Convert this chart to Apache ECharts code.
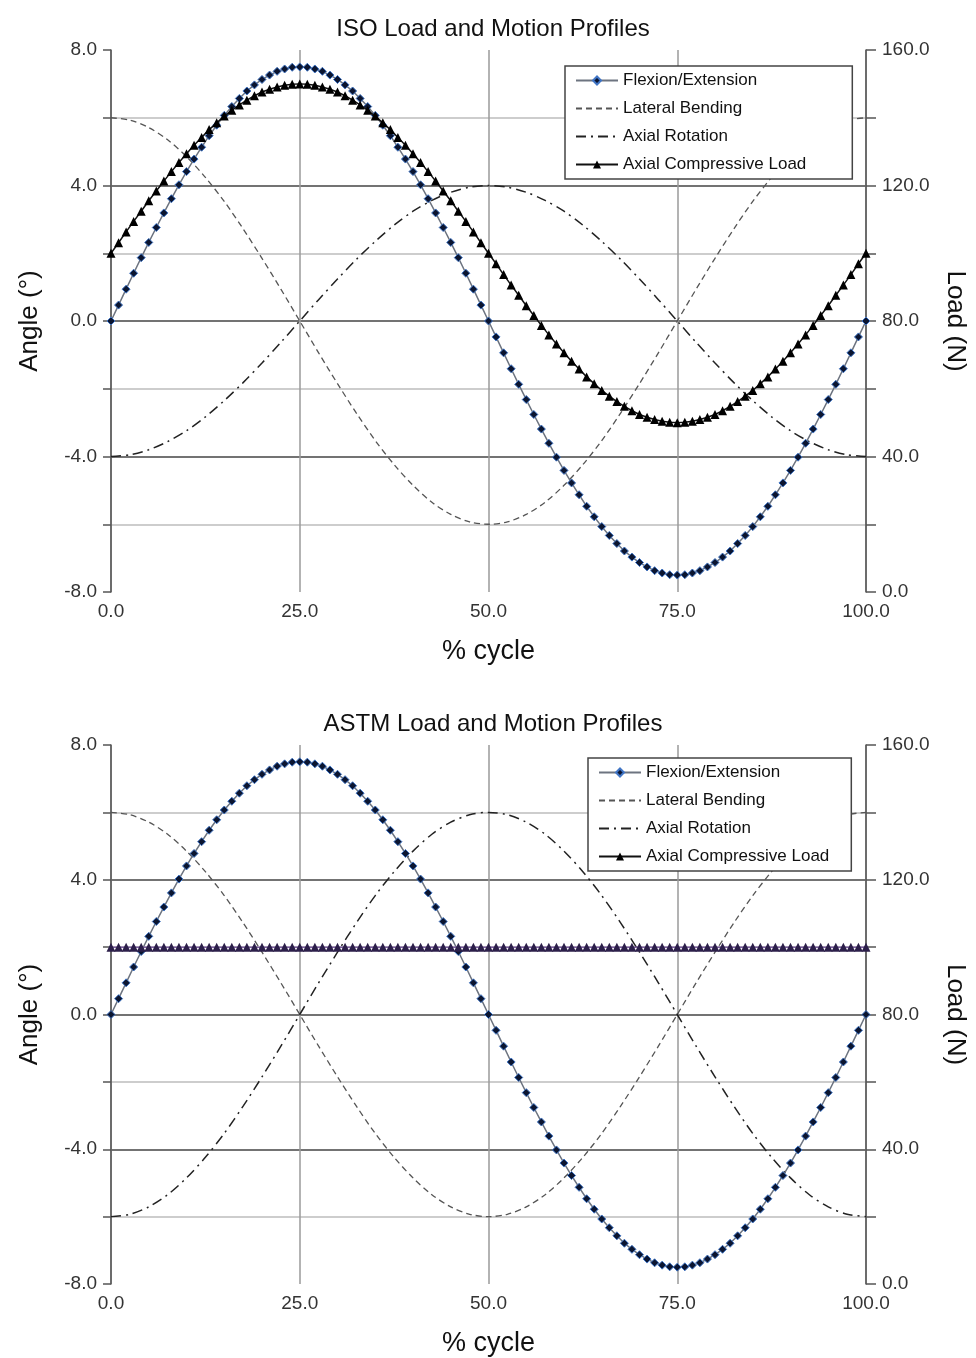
<!DOCTYPE html>
<html>
<head>
<meta charset="utf-8">
<script src="https://cdn.jsdelivr.net/npm/echarts@6/dist/echarts.min.js"></script>
<style>
  html, body { margin: 0; padding: 0; background: #fff; }
  #chart { width: 976px; height: 1358px; }
</style>
</head>
<body>
<div id="chart"></div>
<script>
// % cycle, 1% steps (marker series) and 2.5% steps (plain lines)
var xFine = [];
for (var i = 0; i <= 100; i++) xFine.push(i);
var xCoarse = [];
for (var j = 0; j <= 40; j++) xCoarse.push(j * 2.5);

// Flexion/Extension (deg), same in both profiles
var flexion = [
  0, 0.47, 0.94, 1.41, 1.87, 2.32, 2.76, 3.19, 3.61, 4.02, 4.41, 4.78, 5.13, 5.47, 5.78, 6.07, 6.33, 6.57, 6.79, 6.97, 7.13, 7.26, 7.37, 7.44, 7.49, 7.5,
  7.49, 7.44, 7.37, 7.26, 7.13, 6.97, 6.79, 6.57, 6.33, 6.07, 5.78, 5.47, 5.13, 4.78, 4.41, 4.02, 3.61, 3.19, 2.76, 2.32, 1.87, 1.41, 0.94, 0.47, 0,
  -0.47, -0.94, -1.41, -1.87, -2.32, -2.76, -3.19, -3.61, -4.02, -4.41, -4.78, -5.13, -5.47, -5.78, -6.07, -6.33, -6.57, -6.79, -6.97, -7.13, -7.26, -7.37, -7.44, -7.49, -7.5,
  -7.49, -7.44, -7.37, -7.26, -7.13, -6.97, -6.79, -6.57, -6.33, -6.07, -5.78, -5.47, -5.13, -4.78, -4.41, -4.02, -3.61, -3.19, -2.76, -2.32, -1.87, -1.41, -0.94, -0.47, 0
];

// Lateral Bending (deg), same in both profiles, 2.5% steps
var lateral = [
  6, 5.93, 5.71, 5.35, 4.85, 4.24, 3.53, 2.72, 1.85, 0.94, 0, -0.94, -1.85, -2.72, -3.53, -4.24, -4.85, -5.35, -5.71, -5.93,
  -6, -5.93, -5.71, -5.35, -4.85, -4.24, -3.53, -2.72, -1.85, -0.94, 0, 0.94, 1.85, 2.72, 3.53, 4.24, 4.85, 5.35, 5.71, 5.93, 6
];

// Axial Rotation (deg), 2.5% steps
var isoRotation = [
  -4, -3.95, -3.8, -3.56, -3.24, -2.83, -2.35, -1.82, -1.24, -0.63, 0, 0.63, 1.24, 1.82, 2.35, 2.83, 3.24, 3.56, 3.8, 3.95,
  4, 3.95, 3.8, 3.56, 3.24, 2.83, 2.35, 1.82, 1.24, 0.63, 0, -0.63, -1.24, -1.82, -2.35, -2.83, -3.24, -3.56, -3.8, -3.95, -4
];
var astmRotation = [
  -6, -5.93, -5.71, -5.35, -4.85, -4.24, -3.53, -2.72, -1.85, -0.94, 0, 0.94, 1.85, 2.72, 3.53, 4.24, 4.85, 5.35, 5.71, 5.93,
  6, 5.93, 5.71, 5.35, 4.85, 4.24, 3.53, 2.72, 1.85, 0.94, 0, -0.94, -1.85, -2.72, -3.53, -4.24, -4.85, -5.35, -5.71, -5.93, -6
];

// Axial Compressive Load (N)
var isoLoad = [
  100, 103.1, 106.3, 109.4, 112.4, 115.5, 118.4, 121.3, 124.1, 126.8, 129.4, 131.9, 134.2, 136.5, 138.5, 140.5, 142.2, 143.8, 145.2, 146.5, 147.6, 148.4, 149.1, 149.6, 149.9, 150,
  149.9, 149.6, 149.1, 148.4, 147.6, 146.5, 145.2, 143.8, 142.2, 140.5, 138.5, 136.5, 134.2, 131.9, 129.4, 126.8, 124.1, 121.3, 118.4, 115.5, 112.4, 109.4, 106.3, 103.1, 100,
  96.9, 93.7, 90.6, 87.6, 84.5, 81.6, 78.7, 75.9, 73.2, 70.6, 68.1, 65.8, 63.5, 61.5, 59.5, 57.8, 56.2, 54.8, 53.5, 52.4, 51.6, 50.9, 50.4, 50.1, 50,
  50.1, 50.4, 50.9, 51.6, 52.4, 53.5, 54.8, 56.2, 57.8, 59.5, 61.5, 63.5, 65.8, 68.1, 70.6, 73.2, 75.9, 78.7, 81.6, 84.5, 87.6, 90.6, 93.7, 96.9, 100
];
var astmLoad = [
  100, 100, 100, 100, 100, 100, 100, 100, 100, 100, 100, 100, 100, 100, 100, 100, 100, 100, 100, 100, 100, 100, 100, 100, 100, 100,
  100, 100, 100, 100, 100, 100, 100, 100, 100, 100, 100, 100, 100, 100, 100, 100, 100, 100, 100, 100, 100, 100, 100, 100, 100,
  100, 100, 100, 100, 100, 100, 100, 100, 100, 100, 100, 100, 100, 100, 100, 100, 100, 100, 100, 100, 100, 100, 100, 100, 100,
  100, 100, 100, 100, 100, 100, 100, 100, 100, 100, 100, 100, 100, 100, 100, 100, 100, 100, 100, 100, 100, 100, 100, 100, 100
];

var seriesNames = ['Flexion/Extension', 'Lateral Bending', 'Axial Rotation', 'Axial Compressive Load'];
var titles = ['ISO Load and Motion Profiles', 'ASTM Load and Motion Profiles'];

var FONT = "'Liberation Sans', Arial, sans-serif";

function pairs(xs, ys) {
  var out = [];
  for (var k = 0; k < ys.length; k++) out.push([xs[k], ys[k]]);
  return out;
}

var chart = echarts.init(document.getElementById('chart'));

var grids = [
  { left: 111, width: 755, top: 50, height: 542, outerBoundsMode: 'none' },
  { left: 111, width: 755, top: 745, height: 539, outerBoundsMode: 'none' }
];

// gridlines: none at the plot edges, dark at major ticks, light in between
var hLineColors = ['rgba(0,0,0,0)', '#bdbdbd', '#444', '#bdbdbd', '#444', '#bdbdbd', '#444', '#bdbdbd', 'rgba(0,0,0,0)'];

var xAxes = [], yAxes = [], legends = [], titleArr = [], seriesArr = [];

for (var g = 0; g < 2; g++) {
  titleArr.push({
    text: titles[g],
    left: 488, top: grids[g].top - 38, textAlign: 'center',
    textStyle: { fontFamily: FONT, fontSize: 24, fontWeight: 'normal', color: '#111' }
  });
  xAxes.push({
    type: 'value', gridIndex: g, min: 0, max: 100, interval: 25,
    name: '% cycle', nameLocation: 'middle', nameGap: 46,
    nameTextStyle: { fontFamily: FONT, fontSize: 27, color: '#111' },
    axisLine: { show: false },
    axisTick: { show: false },
    axisLabel: { fontFamily: FONT, fontSize: 19, color: '#333', margin: 10,
      formatter: function (v) { return v.toFixed(1); } },
    splitLine: { show: true, lineStyle: { color: '#9a9a9a', width: 1.5 } }
  });
  yAxes.push({
    type: 'value', gridIndex: g, position: 'left', min: -8, max: 8, interval: 2,
    name: 'Angle (°)', nameLocation: 'middle', nameGap: 68,
    nameTextStyle: { fontFamily: FONT, fontSize: 26, color: '#111' },
    axisLine: { show: true, onZero: false, lineStyle: { color: '#555', width: 1.5 } },
    axisTick: { show: true, inside: false, length: 8, lineStyle: { color: '#555', width: 1.5 } },
    axisLabel: { fontFamily: FONT, fontSize: 19, color: '#333', margin: 14,
      formatter: function (v) { return v % 4 === 0 ? v.toFixed(1) : ''; } },
    splitLine: { show: true, lineStyle: { color: hLineColors, width: 1.5 } }
  });
  yAxes.push({
    type: 'value', gridIndex: g, position: 'right', min: 0, max: 160, interval: 20,
    name: 'Load (N)', nameLocation: 'middle', nameGap: 76, nameRotate: -90,
    nameTextStyle: { fontFamily: FONT, fontSize: 26, color: '#111' },
    axisLine: { show: true, onZero: false, lineStyle: { color: '#555', width: 1.5 } },
    axisTick: { show: true, inside: false, length: 10, lineStyle: { color: '#555', width: 1.5 } },
    axisLabel: { fontFamily: FONT, fontSize: 19, color: '#333', margin: 16,
      formatter: function (v) { return v % 40 === 0 ? v.toFixed(1) : ''; } },
    splitLine: { show: false }
  });
}

var loadSets = [isoLoad, astmLoad];
var rotSets = [isoRotation, astmRotation];
var loadColors = ['#111111', '#7a5c9e'];
var loadMarker = ['#000000', '#2c1f4a'];

for (var s = 0; s < 2; s++) {
  seriesArr.push({
    name: seriesNames[0], type: 'line', xAxisIndex: s, yAxisIndex: s * 2,
    data: pairs(xFine, flexion), z: 4,
    symbol: 'diamond', symbolSize: 8, showAllSymbol: true,
    lineStyle: { color: '#6d7480', width: 1.5 },
    itemStyle: { color: '#0b1530', borderColor: '#3f74c4', borderWidth: 1 }
  });
  seriesArr.push({
    name: seriesNames[1], type: 'line', xAxisIndex: s, yAxisIndex: s * 2,
    data: pairs(xCoarse, lateral), smooth: 0.3, symbol: 'none', z: 3,
    lineStyle: { color: '#555', width: 1.3, type: [6, 4] },
    itemStyle: { color: '#555' }
  });
  seriesArr.push({
    name: seriesNames[2], type: 'line', xAxisIndex: s, yAxisIndex: s * 2,
    data: pairs(xCoarse, rotSets[s]), smooth: 0.3, symbol: 'none', z: 3,
    lineStyle: { color: '#222', width: 1.5, type: [10, 5, 2, 5] },
    itemStyle: { color: '#222' }
  });
  seriesArr.push({
    name: seriesNames[3], type: 'line', xAxisIndex: s, yAxisIndex: s * 2 + 1,
    data: pairs(xFine, loadSets[s]), z: 5,
    symbol: 'triangle', symbolSize: 9, showAllSymbol: true,
    lineStyle: { color: loadColors[s], width: 1.5 },
    itemStyle: { color: loadMarker[s] }
  });
}

var legendData = [
  { name: seriesNames[0] },
  { name: seriesNames[1], itemStyle: { opacity: 0 } },
  { name: seriesNames[2], itemStyle: { opacity: 0 } },
  { name: seriesNames[3] }
];

legends.push({
  data: legendData, orient: 'vertical', left: 565, top: 66, width: 287,
  padding: [6, 46, 6, 10], itemGap: 11, itemWidth: 42, itemHeight: 10,
  backgroundColor: '#fff', borderColor: '#444', borderWidth: 1.5,
  textStyle: { fontFamily: FONT, fontSize: 17, color: '#111' },
  selectedMode: false
});
legends.push({
  data: legendData, orient: 'vertical', left: 588, top: 758, width: 264,
  padding: [6, 22, 6, 10], itemGap: 11, itemWidth: 42, itemHeight: 10,
  backgroundColor: '#fff', borderColor: '#444', borderWidth: 1.5,
  textStyle: { fontFamily: FONT, fontSize: 17, color: '#111' },
  selectedMode: false
});

var option = {
  backgroundColor: '#fff',
  animation: false,
  title: titleArr,
  grid: grids,
  xAxis: xAxes,
  yAxis: yAxes,
  legend: legends,
  series: seriesArr
};

chart.setOption(option);
</script>
</body>
</html>
